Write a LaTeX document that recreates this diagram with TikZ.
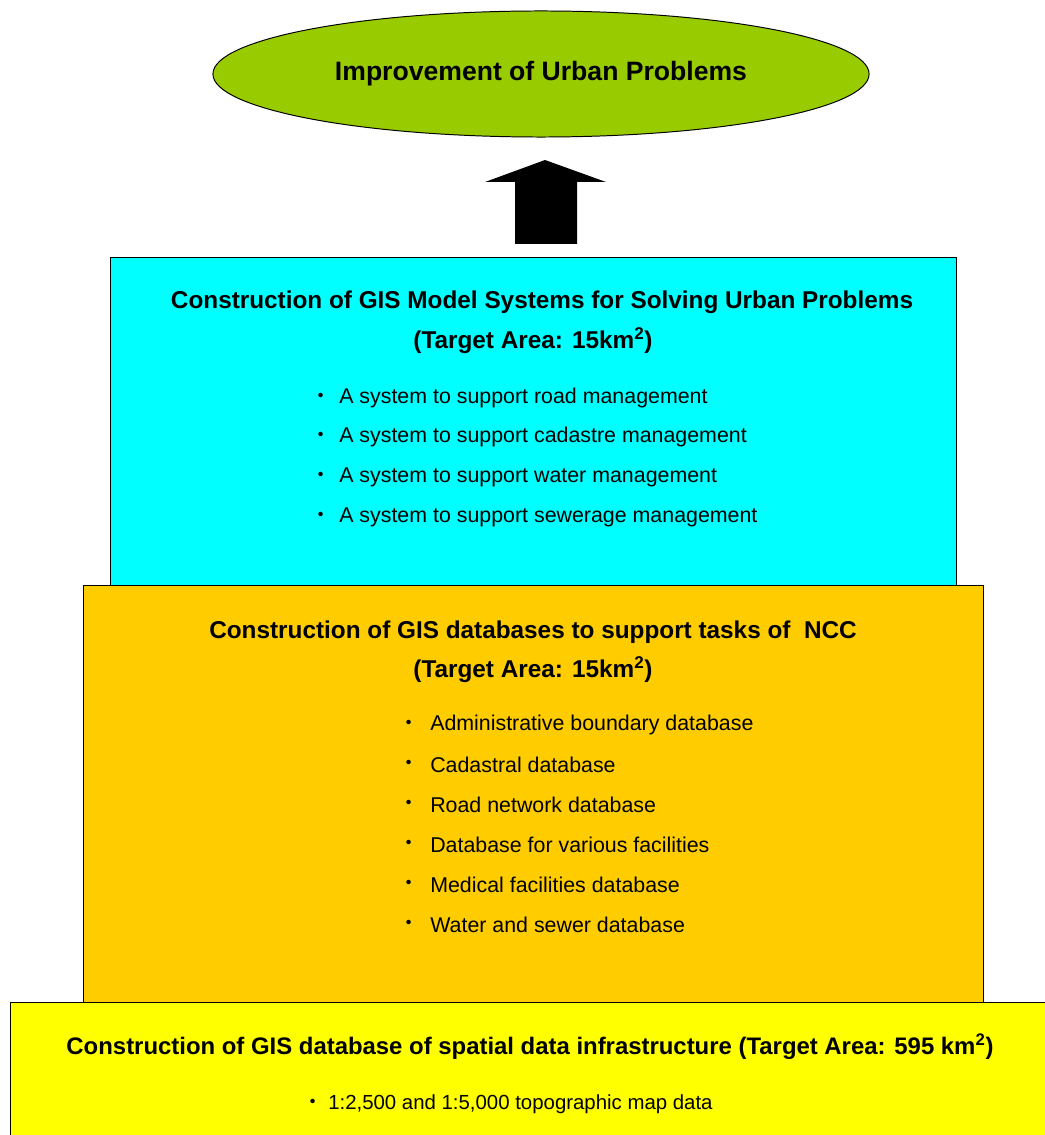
\documentclass[tikz,border=0pt]{standalone}
\usepackage{fontspec}
\setmainfont{Liberation Sans}
\newfontfamily\cjk{Noto Sans CJK JP}
\usetikzlibrary{shapes.geometric}

\definecolor{goalgreen}{HTML}{99CC00}
\definecolor{modelcyan}{HTML}{00FFFF}
\definecolor{dbamber}{HTML}{FFCC00}
\definecolor{sdiyellow}{HTML}{FFFF00}

\begin{document}
\begin{tikzpicture}[
  x=0.025cm, y=-0.025cm,
  layerbox/.style={draw=black, line width=0.7pt},
  headline/.style={font=\bfseries\fontsize{17.3}{20}\selectfont, inner sep=0pt},
  dotmark/.style={font=\cjk\fontsize{15}{17}\selectfont, inner sep=0pt},
  itemtext/.style={anchor=west, font=\fontsize{15.2}{18}\selectfont, inner sep=0pt},
]

% Page frame (pixel grid of the reference)
\useasboundingbox (0,0) rectangle (1044,1135);

% ── Goal ellipse and the block arrow ────────────────────────────────────
\node[ellipse, draw=black, line width=0.7pt, fill=goalgreen,
      minimum width=16.4cm, minimum height=3.15cm, inner sep=0pt,
      font=\bfseries\fontsize{18.9}{22}\selectfont]
  (goal) at (541,74) {Improvement of Urban Problems};

\coordinate (tip) at (545,160);
\fill[black] (tip) -- (606,182) -- (577,182) -- (577,244)
  -- (515,244) -- (515,182) -- (485,182) -- cycle;

% ── Three stacked layers (drawn back to front) ──────────────────────────
\draw[layerbox, fill=modelcyan] (110,257) rectangle (956,585);
\draw[layerbox, fill=dbamber]   (83,585)  rectangle (983,1002);
\draw[layerbox, fill=sdiyellow] (10,1002) rectangle (1060,1150);

% Model systems layer
\node[headline] (modeltitle) at (542,302)
  {Construction of GIS Model Systems for Solving Urban Problems};
\node[headline] (modelarea) at (533,341)
  {(Target Area: 15km\textsuperscript{2})};

\foreach \y/\txt [count=\i] in {
  398/A system to support road management,
  437/A system to support cadastre management,
  477/A system to support water management,
  517/A system to support sewerage management%
} {
  \node[dotmark] (modeldot\i) at (321,\y) {・};
  \node[itemtext] (modelitem\i) at (339,\y) {\txt};
}

% Database layer
\node[headline] (dbtitle) at (533,632)
  {Construction of GIS databases to support tasks of \ NCC};
\node[headline] (dbarea) at (533,670)
  {(Target Area: 15km\textsuperscript{2})};

\foreach \y/\txt [count=\i] in {
  725/Administrative boundary database,
  765/Cadastral database,
  805/Road network database,
  845/Database for various facilities,
  885/Medical facilities database,
  925/Water and sewer database%
} {
  \node[dotmark] (dbdot\i) at (409,\y) {・};
  \node[itemtext] (dbitem\i) at (430,\y) {\txt};
}

% Spatial data infrastructure layer
\node[headline, font=\bfseries\fontsize{17}{20}\selectfont] (sdititle) at (530,1047)
  {Construction of GIS database of spatial data infrastructure (Target Area: 595 km\textsuperscript{2})};
\node[dotmark] (sdidot) at (313,1104) {・};
\node[itemtext, font=\fontsize{14.5}{17}\selectfont] (sdiitem) at (328,1104)
  {1:2,500 and 1:5,000 topographic map data};

\end{tikzpicture}
\end{document}
